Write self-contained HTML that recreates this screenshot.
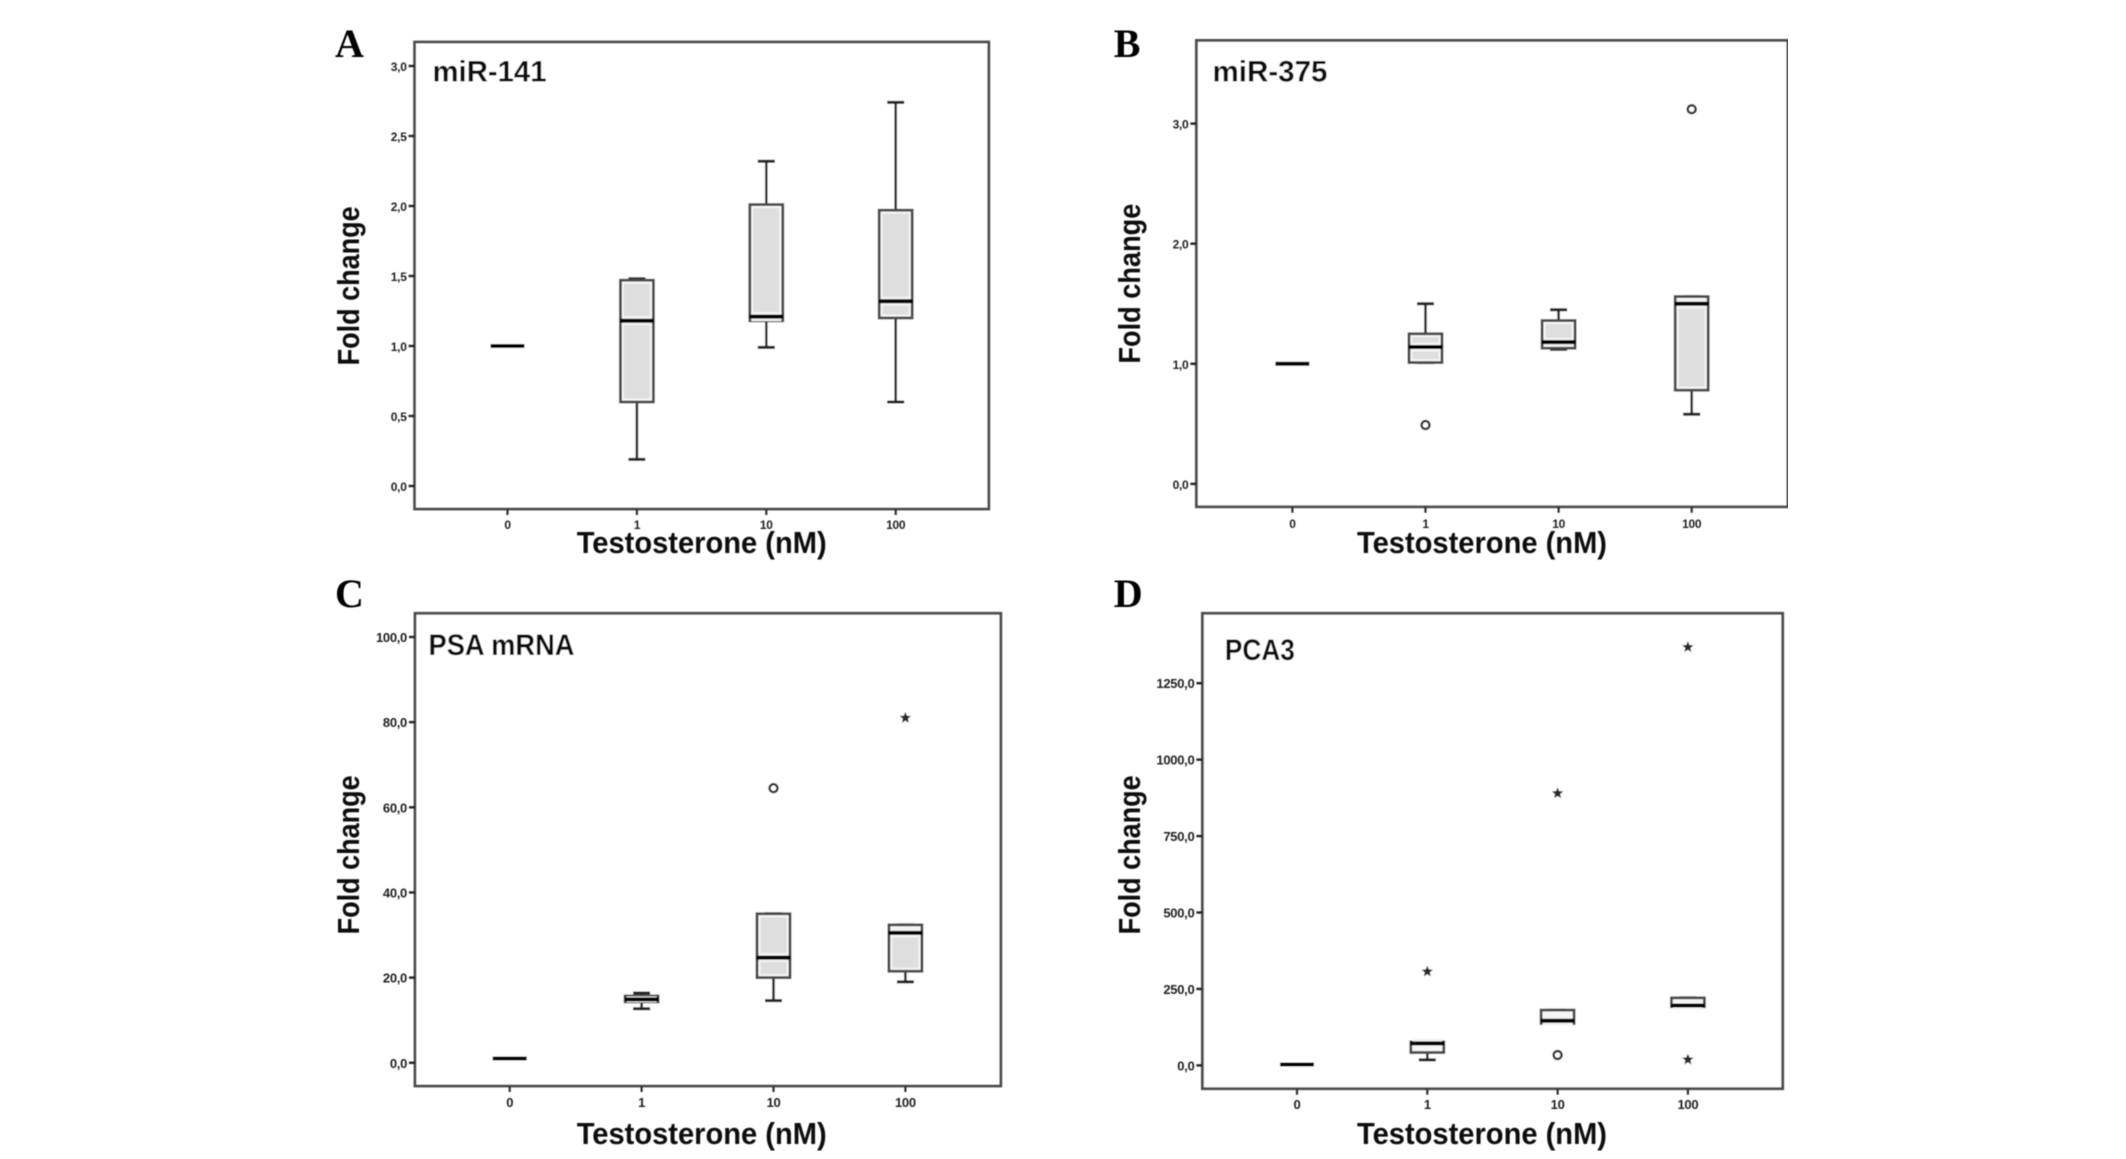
<!DOCTYPE html>
<html lang="en">
<head>
<meta charset="utf-8">
<title>Fold change vs testosterone</title>
<style>
html,body{margin:0;padding:0;background:#fff;}
body{width:2126px;height:1159px;overflow:hidden;}
svg{display:block;}
.letter{font:bold 40px "Liberation Serif",serif;fill:#000;}
.title{font:bold 30px "Liberation Sans",sans-serif;fill:#111;}
.axt{font:bold 31px "Liberation Sans",sans-serif;fill:#0a0a0a;}
.frame{fill:#fff;stroke:#4c4c4c;stroke-width:2.8;}
.tick{font-family:"Liberation Sans",sans-serif;font-weight:bold;fill:#222;letter-spacing:-0.3px;}
</style>
</head>
<body>
<svg id="figure" xmlns="http://www.w3.org/2000/svg" width="2126" height="1159" viewBox="0 0 2126 1159">
<defs><filter id="soft" x="0" y="0" width="100%" height="100%"><feGaussianBlur stdDeviation="0.6"/></filter></defs>
<rect width="2126" height="1159" fill="#fff"/>
<g id="root" filter="url(#soft)">
  <g>
    <rect class="frame" x="414.6" y="42" width="574.2" height="467"/>
    <text class="letter" x="335" y="57">A</text>
    <text class="title" x="432.5" y="81.4" textLength="114" lengthAdjust="spacingAndGlyphs">miR-141</text>
    <text class="axt" x="576.7" y="553" textLength="250" lengthAdjust="spacingAndGlyphs">Testosterone (nM)</text>
    <text class="axt" transform="translate(358.8 365.4) rotate(-90)" textLength="159" lengthAdjust="spacingAndGlyphs">Fold change</text>
    <g id="marks-a"></g>
  </g>
  <g>
    <rect class="frame" x="1196.4" y="40.4" width="591.4" height="466.4"/>
    <text class="letter" x="1113.8" y="57">B</text>
    <text class="title" x="1212.5" y="81.4" textLength="115" lengthAdjust="spacingAndGlyphs">miR-375</text>
    <text class="axt" x="1357" y="553" textLength="250" lengthAdjust="spacingAndGlyphs">Testosterone (nM)</text>
    <text class="axt" transform="translate(1140 363.6) rotate(-90)" textLength="160" lengthAdjust="spacingAndGlyphs">Fold change</text>
    <g id="marks-b"></g>
  </g>
  <g>
    <rect class="frame" x="415" y="613.3" width="585.8" height="472.7"/>
    <text class="letter" x="335" y="607">C</text>
    <text class="title" x="428.5" y="655" textLength="146" lengthAdjust="spacingAndGlyphs">PSA mRNA</text>
    <text class="axt" x="576.7" y="1144" textLength="250" lengthAdjust="spacingAndGlyphs">Testosterone (nM)</text>
    <text class="axt" transform="translate(359 934.4) rotate(-90)" textLength="159" lengthAdjust="spacingAndGlyphs">Fold change</text>
    <g id="marks-c"></g>
  </g>
  <g>
    <rect class="frame" x="1202.4" y="613.3" width="580.3" height="475.4"/>
    <text class="letter" x="1113.8" y="607">D</text>
    <text class="title" x="1224.9" y="660" textLength="70" lengthAdjust="spacingAndGlyphs">PCA3</text>
    <text class="axt" x="1357" y="1144" textLength="250" lengthAdjust="spacingAndGlyphs">Testosterone (nM)</text>
    <text class="axt" transform="translate(1140 934.4) rotate(-90)" textLength="159" lengthAdjust="spacingAndGlyphs">Fold change</text>
    <g id="marks-d"></g>
  </g>
</g>
</svg>
<script>
const categories = ['0', '1', '10', '100'];

const aTicks = [0, 0.5, 1, 1.5, 2, 2.5, 3];
const aTickLabels = ['0,0', '0,5', '1,0', '1,5', '2,0', '2,5', '3,0'];
const aLow = [1, 0.19, 0.99, 0.6];
const aQ1 = [1, 0.6, 1.18, 1.2];
const aMedian = [1, 1.18, 1.21, 1.32];
const aQ3 = [1, 1.47, 2.01, 1.97];
const aHigh = [1, 1.48, 2.32, 2.74];
const aOutliers = [];
const aExtremes = [];

const bTicks = [0, 1, 2, 3];
const bTickLabels = ['0,0', '1,0', '2,0', '3,0'];
const bLow = [1, 1.01, 1.12, 0.58];
const bQ1 = [1, 1.01, 1.13, 0.78];
const bMedian = [1, 1.14, 1.18, 1.5];
const bQ3 = [1, 1.25, 1.36, 1.56];
const bHigh = [1, 1.5, 1.45, 1.56];
const bOutliers = [[1, 0.49], [3, 3.12]];
const bExtremes = [];

const cTicks = [0, 20, 40, 60, 80, 100];
const cTickLabels = ['0,0', '20,0', '40,0', '60,0', '80,0', '100,0'];
const cLow = [1, 12.7, 14.6, 19];
const cQ1 = [1, 14.3, 20, 21.5];
const cMedian = [1, 14.9, 24.7, 30.5];
const cQ3 = [1, 15.7, 35, 32.4];
const cHigh = [1, 16.4, 35, 32.4];
const cOutliers = [[2, 64.5]];
const cExtremes = [[3, 81]];

const dTicks = [0, 250, 500, 750, 1000, 1250];
const dTickLabels = ['0,0', '250,0', '500,0', '750,0', '1000,0', '1250,0'];
const dLow = [3, 18, 137, 192];
const dQ1 = [3, 42, 137, 192];
const dMedian = [3, 72, 146, 196];
const dQ3 = [3, 77, 181, 221];
const dHigh = [3, 77, 181, 221];
const dOutliers = [[2, 34]];
const dExtremes = [[1, 307], [2, 890], [3, 1368], [3, 19]];

const NS = 'http://www.w3.org/2000/svg';
function mk(parent, tag, attrs) {
  const e = document.createElementNS(NS, tag);
  for (const k in attrs) e.setAttribute(k, attrs[k]);
  parent.appendChild(e);
  return e;
}

function starPoints(cx, cy, r) {
  const pts = [];
  for (let i = 0; i < 10; i++) {
    const rad = i % 2 ? r * 0.45 : r;
    const ang = -Math.PI / 2 + i * Math.PI / 5;
    pts.push((cx + rad * Math.cos(ang)).toFixed(2) + ',' + (cy + rad * Math.sin(ang)).toFixed(2));
  }
  return pts.join(' ');
}

function drawPanel(p) {
  const g = document.getElementById('marks-' + p.id);
  const x = i => p.x0 + i * p.step;
  const y = v => p.y0 - v * p.unit;

  p.ticks.forEach((t, i) => {
    const tk = mk(g, 'line', {x1: p.frameL - 6, x2: p.frameL, y1: y(t), y2: y(t), stroke: '#222', 'stroke-width': 2.4});
    
    
    const lb = mk(g, 'text', {x: p.frameL - 8, y: y(t) + 5, 'text-anchor': 'end', class: 'tick', 'font-size': p.font});
    
    
    lb.textContent = p.tickLabels[i];
  });

  categories.forEach((c, i) => {
    const cx = x(i);
    const tk = mk(g, 'line', {x1: cx, x2: cx, y1: p.frameB, y2: p.frameB + 6, stroke: '#333', 'stroke-width': 2.2});
    
    
    const lb = mk(g, 'text', {x: cx, y: p.labelY, 'text-anchor': 'middle', class: 'tick', 'font-size': p.font});
    
    
    lb.textContent = c;

    const hw = 16.5, cap = 8.5;
    const top = y(p.q3[i]), bot = y(p.q1[i]);
    if (p.high[i] > p.low[i]) {
      const wh = mk(g, 'line', {x1: cx, x2: cx, y1: y(p.high[i]), y2: y(p.low[i]), stroke: '#2e2e2e', 'stroke-width': 2.6});
      
      
      const c1 = mk(g, 'line', {x1: cx - cap, x2: cx + cap, y1: y(p.high[i]), y2: y(p.high[i]), stroke: '#222', 'stroke-width': 3});
      
      
      const c2 = mk(g, 'line', {x1: cx - cap, x2: cx + cap, y1: y(p.low[i]), y2: y(p.low[i]), stroke: '#222', 'stroke-width': 3});
      
      
      const box = mk(g, 'rect', {x: cx - hw, y: top, width: hw * 2, height: bot - top, fill: '#f6f6f6', stroke: '#4a4a4a', 'stroke-width': 2.8});
      
      
      if (bot - top > 16) {
        const inner = mk(g, 'rect', {x: cx - hw + 3.5, y: top + 3.5, width: hw * 2 - 7, height: bot - top - 7, fill: '#dedede'});
        
        
      }
      const halo = mk(g, 'line', {x1: cx - hw + 1.5, x2: cx + hw - 1.5, y1: y(p.median[i]), y2: y(p.median[i]), stroke: '#f4f4f4', 'stroke-width': Math.min(9, bot - top)});
      
      
    }
    const md = mk(g, 'line', {x1: cx - hw - 0.5, x2: cx + hw + 0.5, y1: y(p.median[i]), y2: y(p.median[i]), stroke: '#000', 'stroke-width': 4});
    
    
  });

  p.outliers.forEach(o => {
    const m = mk(g, 'circle', {cx: x(o[0]), cy: y(o[1]), r: 4, fill: '#fff', stroke: '#333', 'stroke-width': 2.5});
    
    
  });
  p.extremes.forEach(o => {
    const m = mk(g, 'polygon', {points: starPoints(x(o[0]), y(o[1]), 6), fill: '#2a2a2a'});
    
    
  });
}

drawPanel({id: 'a', x0: 507.5, step: 129.4, y0: 486, unit: 140, frameL: 414.6, frameB: 509, labelY: 529, font: 12,
  ticks: aTicks, tickLabels: aTickLabels, low: aLow, q1: aQ1, median: aMedian, q3: aQ3, high: aHigh, outliers: aOutliers, extremes: aExtremes});
drawPanel({id: 'b', x0: 1292.4, step: 133.1, y0: 483.9, unit: 120.1, frameL: 1196.4, frameB: 506.8, labelY: 528, font: 12,
  ticks: bTicks, tickLabels: bTickLabels, low: bLow, q1: bQ1, median: bMedian, q3: bQ3, high: bHigh, outliers: bOutliers, extremes: bExtremes});
drawPanel({id: 'c', x0: 509.7, step: 131.9, y0: 1062.8, unit: 4.258, frameL: 415, frameB: 1086, labelY: 1107, font: 13,
  ticks: cTicks, tickLabels: cTickLabels, low: cLow, q1: cQ1, median: cMedian, q3: cQ3, high: cHigh, outliers: cOutliers, extremes: cExtremes});
drawPanel({id: 'd', x0: 1297, step: 130.3, y0: 1065.4, unit: 0.30576, frameL: 1202.4, frameB: 1088.7, labelY: 1109, font: 13,
  ticks: dTicks, tickLabels: dTickLabels, low: dLow, q1: dQ1, median: dMedian, q3: dQ3, high: dHigh, outliers: dOutliers, extremes: dExtremes});
</script>
</body>
</html>
